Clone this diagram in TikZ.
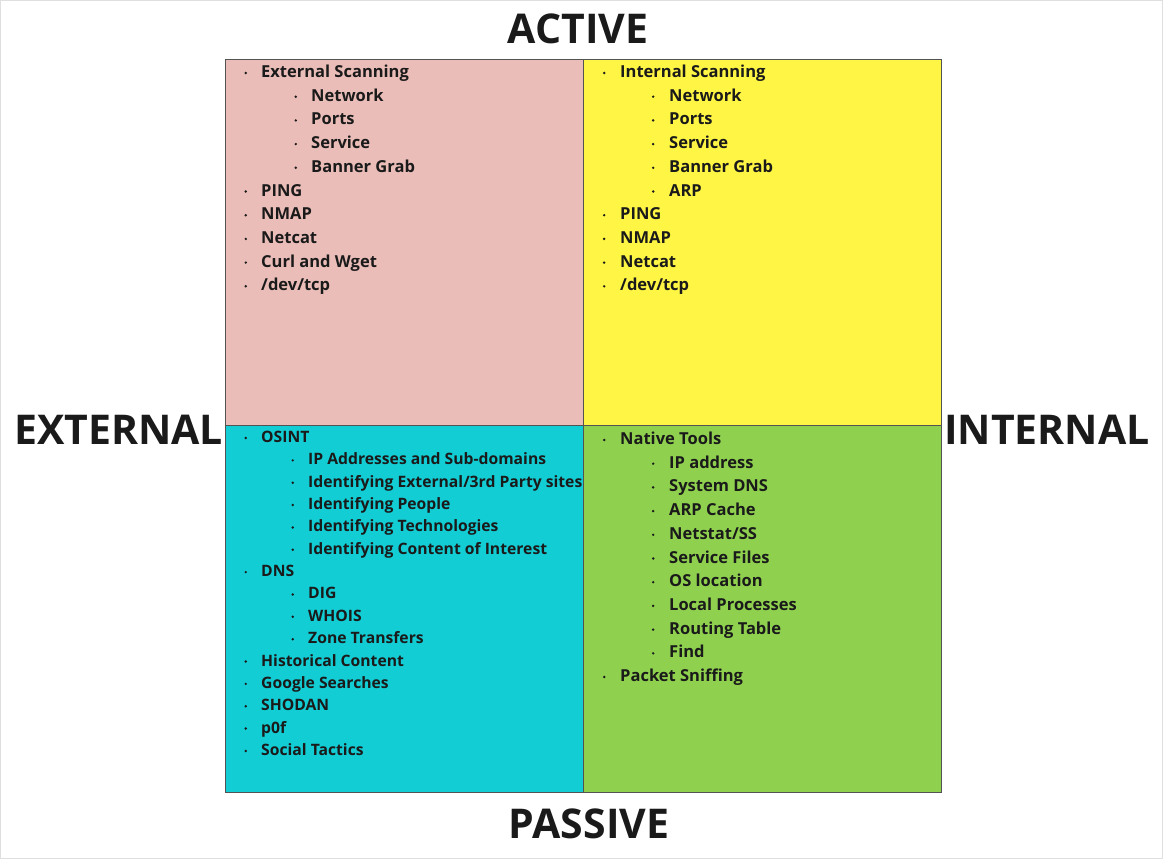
\documentclass[tikz,border=0pt]{standalone}
\usepackage{fontspec}
\setmainfont{Open Sans}
\usetikzlibrary{positioning}
\definecolor{Ink}{HTML}{1A1A1A}
\definecolor{Blush}{HTML}{EABDB8}
\definecolor{Lemon}{HTML}{FFF544}
\definecolor{Aqua}{HTML}{13CDD4}
\definecolor{Lime}{HTML}{8FD14F}
\tikzset{
  quad/.style={draw=Ink!75, line width=0.7pt, fill=#1},
  quad/.default={white},
  axislabel/.style={font=\fontsize{41}{42}\selectfont\bfseries, text=Ink, inner sep=0pt},
  entry/.style={font=\fontsize{#1}{16}\selectfont\bfseries, text=Ink, anchor=base west, inner sep=0pt},
  entry/.default={16.5},
  dot/.style={circle, fill=Ink, inner sep=0pt, minimum size=2.7pt},
}

\begin{document}
\begin{tikzpicture}[x=1pt, y=-1pt]
  \useasboundingbox (0,0) rectangle (1163,859);
  \draw[gray!25, line width=1pt] (0.5,0.5) rectangle (1162.5,858.5);
  % quadrants
  \node[quad=Blush, minimum width=358pt, minimum height=366pt, anchor=north west] (actext) at (225,59) {};
  \node[quad=Lemon, minimum width=358pt, minimum height=366pt, anchor=north west] (actint) at (583,59) {};
  \node[quad=Aqua, minimum width=358pt, minimum height=367pt, anchor=north west] (pasext) at (225,425) {};
  \node[quad=Lime, minimum width=358pt, minimum height=367pt, anchor=north west] (pasint) at (583,425) {};
  % axis labels
  \node[axislabel, anchor=base] (active) at (578,44) {ACTIVE};
  \node[axislabel, anchor=base] (passive) at (589,838) {PASSIVE};
  \node[axislabel, anchor=base west] (external) at (14,444) {EXTERNAL};
  \node[axislabel, anchor=base west] (internal) at (944,444) {INTERNAL};
  % active / external
  \foreach \lvl/\txt [count=\i] in {0/External Scanning, 1/Network, 1/Ports, 1/Service,
      1/Banner Grab, 0/PING, 0/NMAP, 0/Netcat, 0/Curl and Wget, 0/{/dev/tcp}} {
    \node[entry] (ae\i) at ({261+50*\lvl}, {77.5+23.7*(\i-1)}) {\txt};
    \node[dot, left=13.7pt of ae\i.base west, yshift=4.5pt] (aeb\i) {};
  }
  % active / internal
  \foreach \lvl/\txt [count=\i] in {0/Internal Scanning, 1/Network, 1/Ports, 1/Service,
      1/Banner Grab, 1/ARP, 0/PING, 0/NMAP, 0/Netcat, 0/{/dev/tcp}} {
    \node[entry] (ai\i) at ({620+49*\lvl}, {77.5+23.7*(\i-1)}) {\txt};
    \node[dot, left=14.3pt of ai\i.base west, yshift=4.5pt] (aib\i) {};
  }
  % passive / external
  \foreach \lvl/\txt [count=\i] in {0/OSINT, 1/IP Addresses and Sub-domains,
      1/{Identifying External/3rd Party sites}, 1/Identifying People,
      1/Identifying Technologies, 1/Identifying Content of Interest, 0/DNS,
      1/DIG, 1/WHOIS, 1/Zone Transfers, 0/Historical Content, 0/Google Searches,
      0/SHODAN, 0/p0f, 0/Social Tactics} {
    \node[entry=15.7] (pe\i) at ({261+47*\lvl}, {442.5+22.35*(\i-1)}) {\txt};
    \node[dot, left=13.7pt of pe\i.base west, yshift=4.5pt] (peb\i) {};
  }
  % passive / internal
  \foreach \lvl/\txt [count=\i] in {0/Native Tools, 1/IP address, 1/System DNS,
      1/ARP Cache, 1/{Netstat/SS}, 1/Service Files, 1/OS location,
      1/Local Processes, 1/Routing Table, 1/Find, 0/Packet Sniffing} {
    \node[entry] (pi\i) at ({620+49*\lvl}, {444.5+23.7*(\i-1)}) {\txt};
    \node[dot, left=14.3pt of pi\i.base west, yshift=4.5pt] (pib\i) {};
  }
\end{tikzpicture}
\end{document}
